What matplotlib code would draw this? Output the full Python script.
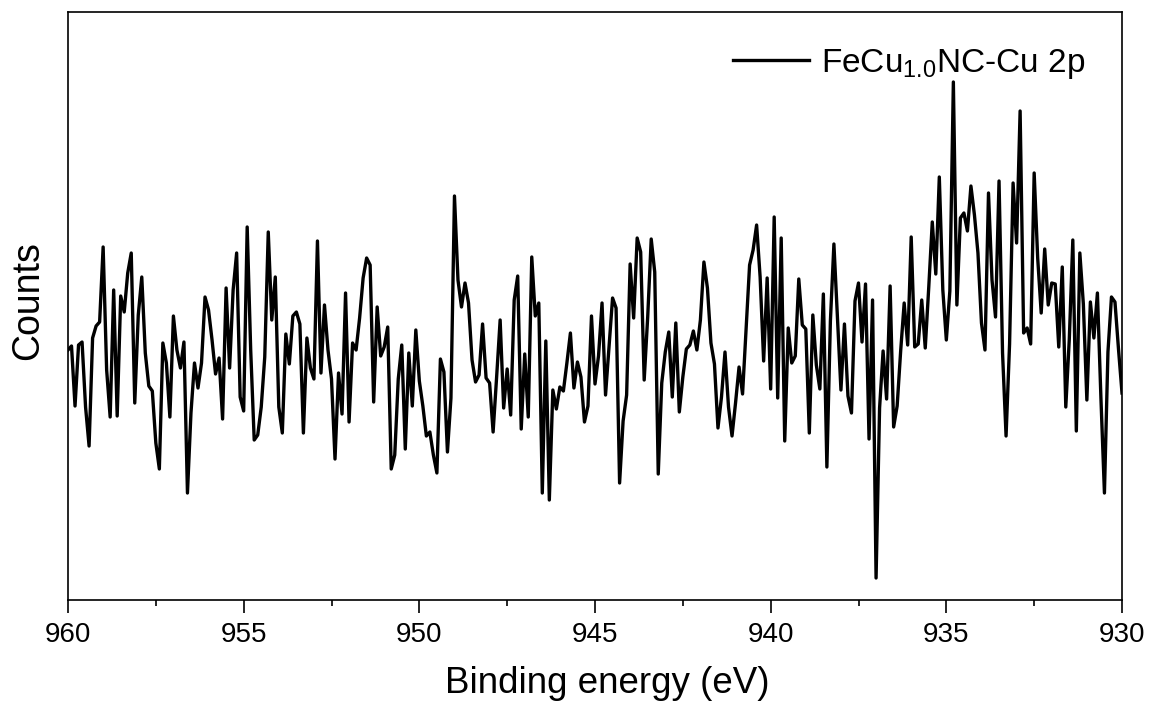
import numpy as np
import matplotlib
matplotlib.use("Agg")
import matplotlib.pyplot as plt
from matplotlib.ticker import MultipleLocator

plt.rcParams['font.family'] = ['Liberation Sans', 'DejaVu Sans']
plt.rcParams['mathtext.fontset'] = 'custom'
plt.rcParams['mathtext.rm'] = 'Liberation Sans'
plt.rcParams['mathtext.it'] = 'Liberation Sans'

# Data: Cu 2p region, 960 -> 930 eV in 0.1 eV steps (counts in arbitrary units)
energy = np.round(np.arange(960.0, 929.95, -0.1), 1)
counts = np.array([
    250, 254, 194, 255, 258, 193, 154, 262, 274, 278,
    353, 230, 183, 310, 184, 304, 288, 327, 347, 197,
    285, 323, 247, 214, 209, 157, 131, 257, 237, 183,
    284, 250, 232, 258, 107, 187, 237, 212, 237, 303,
    290, 260, 226, 242, 181, 312, 232, 310, 347, 203,
    189, 373, 250, 160, 165, 193, 243, 368, 280, 323,
    193,
    167, 266, 236, 284, 288, 276, 167, 262, 232, 221,
    359, 227, 295, 250, 221, 141, 227, 186, 307, 178,
    257, 250, 282, 322, 342, 335, 198, 293, 244, 253,
    273, 131, 145, 221, 255, 151, 247, 194, 270, 219,
    194, 164, 168, 145, 127, 241, 228, 148, 202, 404,
    320, 293, 317, 297, 240, 218, 225, 276, 222, 217,
    168, 223, 280, 192, 231, 185, 300, 324, 171, 246,
    183, 343, 284, 297, 107, 259, 100, 210, 191, 213,
    209, 237, 267, 212, 238, 223, 178, 194, 284, 216,
    244, 297, 205, 253, 302, 292, 117, 179, 205, 336,
    282, 362, 348, 220, 283, 361, 328, 126, 217, 248,
    268, 203, 277, 188, 223, 251, 255, 269, 250, 280,
    338, 312, 257, 236, 172, 203, 248, 193, 164, 197,
    233, 206, 270, 335, 350, 375, 323, 239, 322, 211,
    383, 202, 362, 159, 272, 237, 244, 321, 275, 271,
    167, 285, 235, 211, 306, 133, 279, 356, 283, 210,
    276, 204, 187, 299, 317, 258, 316, 161, 300, 22,
    192, 249, 201, 314, 173, 194, 249, 297, 255, 363,
    253, 256, 300, 252, 313, 378, 326, 423, 310, 260,
    309, 518, 295, 382, 387, 369, 414, 385, 347, 277,
    250, 407, 320, 283, 419, 247, 164, 256, 417, 357,
    489, 267, 272, 256, 427, 342, 287, 351, 295, 317,
    316, 253, 333, 193, 261, 360, 169, 347, 296, 200,
    298, 262, 307, 202, 107, 248, 303, 298, 251, 207,
])
label = r"FeCu$_{1.0}$NC-Cu 2p"

W, H = 1150, 706
fig = plt.figure(figsize=(W / 100, H / 100), dpi=100)
ax = fig.add_axes([68 / W, 1 - 600 / H, (1122 - 68) / W, (600 - 12) / H])

ax.plot(energy, counts, color="k", lw=2.4, label=label)

ax.set_xlim(960, 930)
ax.set_ylim(0, 588)
ax.xaxis.set_major_locator(MultipleLocator(5))
ax.xaxis.set_minor_locator(MultipleLocator(2.5))
ax.tick_params(axis="x", which="major", direction="out", length=9.5, width=1.2,
               labelsize=20, pad=6)
ax.tick_params(axis="x", which="minor", direction="out", length=4.5, width=1.2)
ax.set_yticks([])
for s in ax.spines.values():
    s.set_linewidth(1.2)

ax.set_xlabel("Binding energy (eV)", fontsize=26.5)
ax.set_ylabel("Counts", fontsize=27)
# label placement (axes fraction)
ax.xaxis.set_label_coords(0.512, -0.113)
ax.yaxis.set_label_coords(-0.021, 0.509)

ax.legend(loc="center right", bbox_to_anchor=(0.9655, 0.912), frameon=False,
          fontsize=24, handlelength=2.3, handletextpad=0.36,
          borderpad=0, borderaxespad=0)

fig.savefig("out.png", dpi=100)
